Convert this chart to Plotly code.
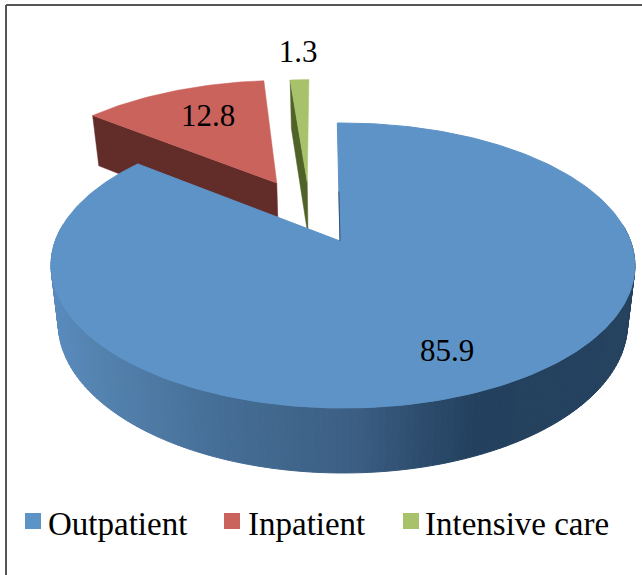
import math
import numpy as np
import plotly.graph_objects as go

categories = ["Outpatient", "Inpatient", "Intensive care"]
values = [85.9, 12.8, 1.3]
value_labels = ["85.9", "12.8", "1.3"]
top_colors = ["#5E93C7", "#CB635D", "#A7C26B"]
side_colors = ["#254061", "#622C28", "#4F6228"]
offsets = [(0.0, 0.0), (-0.237, -0.452), (-0.123, -0.46)]
label_px = [(447, 353), (208, 118), (298, 54)]
legend_px = [(33, 521), (232, 521), (411, 521)]
legend_text_px = [(48, 527), (248, 527), (425, 527)]
gradient_x = [50, 100, 220, 350, 470, 640]
gradient_rgb = [(90, 140, 192), (84, 131, 176), (69, 110, 150), (60, 95, 132), (35, 64, 94), (37, 66, 95)]

W, H = 642, 575
X0, Y0, A, B, K = 340, 241, 287.6, 138.3, -0.172
SX, SY, DEPTH = 0.975, 1.05, 56.6
ROT = -0.7
RIM_SHIFT = 0.01
FONT = "Liberation Serif"


def project(mx, my, bottom=False):
    w = 1 + K * my
    sx = A * mx / w
    sy = B * my / w
    if bottom:
        return X0 + SX * sx, Y0 + SY * sy + DEPTH
    return X0 + sx, Y0 + sy


def wedge(a0, a1, off, rot=ROT, rim=0.0):
    n = max(4, int((a1 - a0) / 1.0))
    t = np.radians(np.linspace(a0, a1, n) + rot)
    xs, ys = project(off[0] + rim + np.sin(t), off[1] - np.cos(t))
    ax, ay = project(off[0], off[1])
    return [ax, *xs, ax], [ay, *ys, ay]


def radial_face(angle, off):
    t = math.radians(angle + ROT)
    cx, cy = project(off[0] + math.sin(t), off[1] - math.cos(t))
    ax, ay = project(off[0], off[1])
    bx, by = project(off[0], off[1], True)
    dx, dy = project(off[0] + math.sin(t), off[1] - math.cos(t), True)
    return [cx, ax, bx, dx, cx], [cy, ay, by, dy, cy]


def poly(fig, xs, ys, color, width=0.5):
    fig.add_trace(go.Scatter(x=list(xs), y=list(ys), mode="lines", fill="toself", fillcolor=color,
                             line=dict(color=color, width=width), hoverinfo="skip", showlegend=False))


def grad(x):
    r, g, b = (float(np.interp(x, gradient_x, [c[i] for c in gradient_rgb])) for i in range(3))
    return f"rgb({r:.0f},{g:.0f},{b:.0f})"


total = sum(values)
spans = [v / total * 360 for v in values]
starts = [0, spans[0], spans[0] + spans[1]]

fig = go.Figure()

# Back slices first, the large slice last so that it covers them.
for i in (2, 1):
    a0, a1 = starts[i], starts[i] + spans[i]
    fx, fy = radial_face(a0, offsets[i])
    poly(fig, fx, fy, side_colors[i])
    tx, ty = wedge(a0, a1, offsets[i])
    poly(fig, tx, ty, top_colors[i])

# Outer wall of the large slice, one narrow strip per step so its shade follows screen x.
BLUE_ROT = ROT - 0.5
edges = np.linspace(0, spans[0], 260)
for a, b in zip(edges[:-1], edges[1:]):
    t = np.radians(np.array([a, b]) + BLUE_ROT)
    mx, my = np.sin(t) + RIM_SHIFT, -np.cos(t)
    if my.mean() < -0.12:
        continue
    x_top, y_top = project(mx, my)
    x_bot, y_bot = project(mx, my, True)
    poly(fig, [x_top[0], x_top[1], x_bot[1], x_bot[0], x_top[0]],
         [y_top[0], y_top[1], y_bot[1], y_bot[0], y_top[0]], grad(float(x_bot.mean())), 1)

tx, ty = wedge(0, spans[0], offsets[0], BLUE_ROT, RIM_SHIFT)
poly(fig, tx, ty, top_colors[0], 1)

# Thin visible edge of the large slice's cut face.
fx, fy = tx[1], ty[1]
ax, ay = tx[0], ty[0]
s = np.array([0.42, 0.0])
fig.add_trace(go.Scatter(x=list(ax + (fx - ax) * s), y=list(ay + (fy - ay) * s), mode="lines",
                         line=dict(color=side_colors[0], width=0.8), hoverinfo="skip", showlegend=False))

# Value labels
fig.add_trace(go.Scatter(x=[p[0] for p in label_px], y=[p[1] for p in label_px], mode="text",
                         text=value_labels, textposition="middle center",
                         textfont=dict(family=FONT, size=31, color="black"),
                         hoverinfo="skip", showlegend=False))

# Legend row: marker and real text, spaced like the reference.
for cat, col, pos, tpos in zip(categories, top_colors, legend_px, legend_text_px):
    fig.add_trace(go.Scatter(x=[pos[0]], y=[pos[1]], mode="markers", name=cat,
                             marker=dict(symbol="square", size=16, color=col),
                             hoverinfo="skip", showlegend=False))
    fig.add_trace(go.Scatter(x=[tpos[0]], y=[tpos[1]], mode="text", name=cat, text=[cat],
                             textposition="middle right",
                             textfont=dict(family=FONT, size=33, color="black"),
                             hoverinfo="skip", showlegend=False))

fig.update_layout(
    width=W, height=H, margin=dict(l=0, r=0, t=0, b=0),
    paper_bgcolor="white", plot_bgcolor="white", showlegend=False,
    xaxis=dict(range=[0, W], visible=False, fixedrange=True),
    yaxis=dict(range=[H, 0], visible=False, fixedrange=True),
    shapes=[
        dict(type="line", xref="x", yref="y", x0=6, x1=W, y0=5, y1=5, line=dict(color="#555555", width=2)),
        dict(type="line", xref="x", yref="y", x0=6, x1=6, y0=5, y1=H, line=dict(color="#555555", width=2)),
    ],
)
fig.write_html("out.html", config=dict(displayModeBar=False),
               post_script="document.body.style.margin='0';document.body.style.overflow='hidden';")
